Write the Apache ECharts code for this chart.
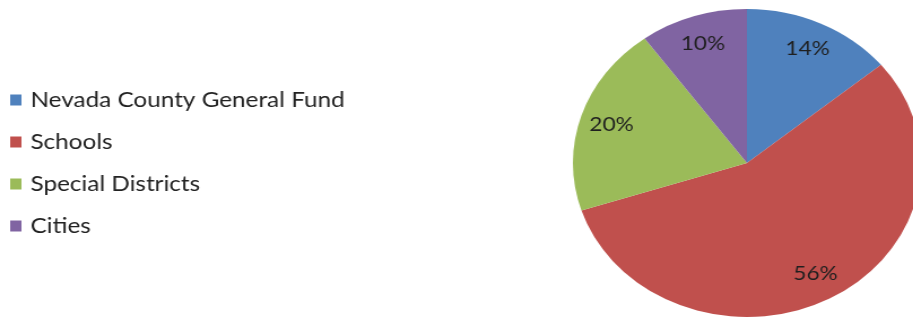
<!DOCTYPE html>
<html lang="en">
<head>
    <meta charset="UTF-8">
    <title>Property Tax Distribution</title>
    <script src="https://cdn.jsdelivr.net/npm/echarts@6/dist/echarts.min.js"></script>
    <style type="text/css">
        html, body { margin: 0; padding: 0; background: #fff; overflow: hidden; }
        /* the reference is stretched sideways, so draw narrower and stretch back */
        .chartData {
            width: 808px;
            height: 318px;
            transform: scaleX(1.13);
            transform-origin: 0 0;
        }
    </style>
</head>
<body>
<div class="chartData" id="chartData"></div>
<script type="text/javascript">
    var names = ['Nevada County General Fund', 'Schools', 'Special Districts', 'Cities'];
    var values = [14, 56, 20, 10];
    var colors = ['#4F81BD', '#C0504D', '#9BBB59', '#8064A2'];

    var pieData = [], labelData = [];
    for (var i = 0; i < names.length; i++) {
        pieData.push({name: names[i], value: values[i], itemStyle: {color: colors[i]}});
        labelData.push({name: names[i], value: values[i]});
    }

    var myChart = echarts.init(document.getElementById('chartData'));
    var option = {
        animation: false,
        legend: {
            orient: 'vertical',
            left: 4,
            top: 84,
            itemWidth: 10,
            itemHeight: 11,
            itemGap: 20,
            icon: 'rect',
            data: names,
            textStyle: {
                fontFamily: 'Lato',
                fontSize: 21.5,
                color: '#222222',
                padding: [0, 0, 0, 3]
            }
        },
        series: [
            {
                type: 'pie',
                center: [661, 163],
                radius: [0, 154],
                startAngle: 90,
                clockwise: true,
                silent: true,
                label: {show: false},
                labelLine: {show: false},
                data: pieData
            },
            {
                // transparent ring, only used to put the % labels at ~0.8 radius
                type: 'pie',
                center: [661, 163],
                radius: [92, 154],
                startAngle: 90,
                clockwise: true,
                silent: true,
                itemStyle: {color: 'rgba(0,0,0,0)'},
                label: {
                    show: true,
                    position: 'inside',
                    formatter: '{c}%',
                    fontFamily: 'Lato',
                    fontSize: 20,
                    color: '#1f1f1f'
                },
                labelLine: {show: false},
                data: labelData
            }
        ]
    };
    myChart.setOption(option);
</script>
</body>
</html>
